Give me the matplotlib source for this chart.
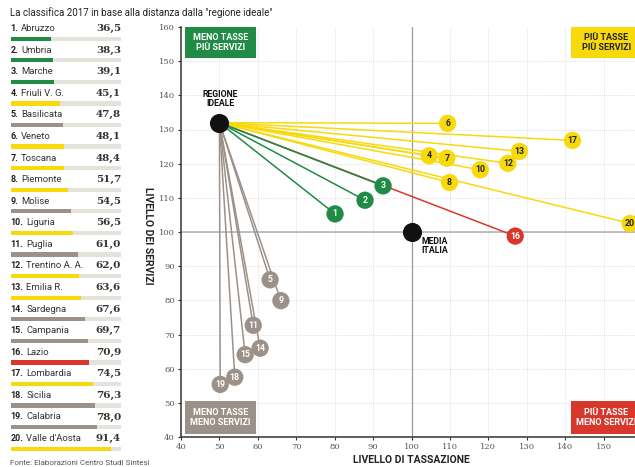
import matplotlib
matplotlib.use('Agg')
import matplotlib.pyplot as plt
from matplotlib.patches import Rectangle

# classifica (sinistra)
regioni = ['Abruzzo', 'Umbria', 'Marche', 'Friuli V. G.', 'Basilicata', 'Veneto',
           'Toscana', 'Piemonte', 'Molise', 'Liguria', 'Puglia', 'Trentino A. A.',
           'Emilia R.', 'Sardegna', 'Campania', 'Lazio', 'Lombardia', 'Sicilia',
           'Calabria', "Valle d'Aosta"]
distanza = [36.5, 38.3, 39.1, 45.1, 47.8, 48.1, 48.4, 51.7, 54.5, 56.5,
            61.0, 62.0, 63.6, 67.6, 69.7, 70.9, 74.5, 76.3, 78.0, 91.4]
# quadrante: v = meno tasse più servizi, g = più tasse più servizi,
# m = meno tasse meno servizi, r = più tasse meno servizi
gruppo = ['v', 'v', 'v', 'g', 'm', 'g', 'g', 'g', 'm', 'g',
          'm', 'g', 'g', 'm', 'm', 'r', 'g', 'm', 'm', 'g']

# posizione nel grafico (tassazione, servizi)
tassazione = [80.1, 87.9, 92.6, 104.6, 63.2, 109.4, 109.2, 109.9, 66.0, 117.9,
              58.8, 125.1, 128.1, 60.6, 56.7, 127.0, 141.9, 54.0, 50.2, 156.9]
servizi = [105.3, 109.3, 113.5, 122.3, 86.0, 131.8, 121.6, 114.5, 79.9, 118.2,
           72.7, 120.1, 123.6, 66.0, 64.1, 98.8, 126.8, 57.5, 55.4, 102.5]

ideale = (50, 132)
media = (100, 100)

colori = {'v': '#1f8b45', 'g': '#f7d90c', 'm': '#9c9189', 'r': '#d8372c'}
testo_num = {'v': 'white', 'g': '#222222', 'm': 'white', 'r': 'white'}
# ordine di disegno delle linee (la rossa resta sotto la verde)
ordine_linee = {'r': 1, 'm': 2, 'g': 2, 'v': 3}

W, H = 635, 467
fig = plt.figure(figsize=(W / 100, H / 100), dpi=100)
fig.patch.set_facecolor('white')

sans = ['Liberation Sans Narrow', 'Roboto', 'DejaVu Sans']
serif = ['DejaVu Serif']

fig.text(10 / W, 1 - 13 / H, 'La classifica 2017 in base alla distanza dalla "regione ideale"',
         fontsize=7, family=sans, color='#222222', va='center', ha='left')
fig.text(10 / W, 1 - 463 / H, 'Fonte: Elaborazioni Centro Studi Sintesi',
         fontsize=5.8, family=sans, color='#555555', va='center', ha='left')

# ---- classifica ----
top_px, row_px = 38.7, 21.58
y_top, y_bot = -1.0, 19.6
axl = fig.add_axes([10.5 / W, 1 - (top_px + y_bot * row_px) / H,
                    110.5 / W, (y_bot - y_top) * row_px / H])
axl.set_xlim(0, 100)
axl.set_ylim(y_bot, y_top)
axl.axis('off')
righe = list(range(len(regioni)))
axl.barh(righe, [100] * len(righe), height=0.2, color='#e5e2dc')
axl.barh(righe, distanza, height=0.2, color=[colori[g] for g in gruppo])
for i, (nome, val) in enumerate(zip(regioni, distanza)):
    t = axl.text(0, i - 0.47, f'{i + 1}.', fontsize=6.5, fontweight='bold',
                 family=sans, color='#222222', va='center', ha='left')
    axl.annotate(nome, xy=(1, 0.5), xycoords=t, xytext=(2, 0), textcoords='offset points',
                 fontsize=6.8, family=sans, color='#333333', va='center', ha='left')
    axl.text(100, i - 0.47, f'{val:.1f}'.replace('.', ','), fontsize=7.5,
             fontweight='bold', family=serif, color='#333333', va='center', ha='right')

# ---- grafico ----
ax = fig.add_axes([181 / W, 1 - 437 / H, 461 / W, 410 / H])
ax.set_xlim(40, 160)
ax.set_ylim(40, 160)
ax.set_xticks(range(40, 161, 10))
ax.set_yticks(range(40, 161, 10))
for v in range(50, 160, 10):
    ax.axvline(v, color='#d5d5d5', lw=0.6, ls=(0, (1, 1.5)), zorder=0)
    ax.axhline(v, color='#d5d5d5', lw=0.6, ls=(0, (1, 1.5)), zorder=0)
ax.axvline(100, color='#9a9a9a', lw=0.9, zorder=1)
ax.axhline(100, color='#b5b5b5', lw=1.2, zorder=1)
for s in ['top', 'right']:
    ax.spines[s].set_visible(False)
for s in ['left', 'bottom']:
    ax.spines[s].set_color('#333333')
    ax.spines[s].set_linewidth(1.1)
ax.tick_params(length=2.5, width=0.8, color='#333333', labelsize=6,
               labelcolor='#555555', pad=2)
for lab in ax.get_xticklabels() + ax.get_yticklabels():
    lab.set_family(serif)

for x, y, g in zip(tassazione, servizi, gruppo):
    ax.plot([ideale[0], x], [ideale[1], y], color=colori[g], lw=1.1,
            zorder=2 + 0.1 * ordine_linee[g], solid_capstyle='butt')
ax.scatter(tassazione, servizi, s=155, c=[colori[g] for g in gruppo], zorder=4,
           linewidths=0)
for i, (x, y, g) in enumerate(zip(tassazione, servizi, gruppo)):
    ax.text(x, y, str(i + 1), fontsize=6.3, fontweight='bold', family=sans,
            color=testo_num[g], ha='center', va='center', zorder=5)

ax.scatter([ideale[0], media[0]], [ideale[1], media[1]], s=190, c='#111111',
           zorder=6, linewidths=0)
ax.text(ideale[0] + 0.3, ideale[1] + 4.3, 'REGIONE\nIDEALE', fontsize=6.3,
        fontweight='bold', family=sans, color='#111111', ha='center', va='bottom',
        linespacing=1.0)
ax.text(media[0] + 2.7, media[1] - 1.6, 'MEDIA\nITALIA', fontsize=6.3,
        fontweight='bold', family=sans, color='#111111', ha='left', va='top',
        linespacing=1.0)

# riquadri dei quadranti
quadranti = [
    (41.0, 150.9, 18.5, 9.1, 'v', 'MENO TASSE\nPIÙ SERVIZI'),
    (141.5, 150.9, 18.5, 9.1, 'g', 'PIÙ TASSE\nPIÙ SERVIZI'),
    (41.0, 41.0, 18.5, 9.4, 'm', 'MENO TASSE\nMENO SERVIZI'),
    (141.5, 41.0, 18.5, 9.4, 'r', 'PIÙ TASSE\nMENO SERVIZI'),
]
for x0, y0, w, h, g, txt in quadranti:
    ax.add_patch(Rectangle((x0, y0), w, h, facecolor=colori[g], edgecolor='none',
                           zorder=7, clip_on=False))
    ax.text(x0 + w / 2, y0 + h / 2, txt, fontsize=6.5, fontweight='bold',
            family=sans, color=testo_num[g], ha='center', va='center',
            linespacing=1.25, zorder=8)

ax.set_xlabel('LIVELLO DI TASSAZIONE', fontsize=7.5, fontweight='bold',
              family=sans, color='#222222', labelpad=5)
ax.xaxis.set_label_coords((411 - 181) / 461, -0.045)
ax.set_ylabel('LIVELLO DEI SERVIZI', fontsize=7.5, fontweight='bold',
              family=sans, color='#222222', rotation=270, va='center')
ax.yaxis.set_label_coords((148 - 181) / 461, (437 - 236) / 410)

fig.savefig('out.png', dpi=100)
